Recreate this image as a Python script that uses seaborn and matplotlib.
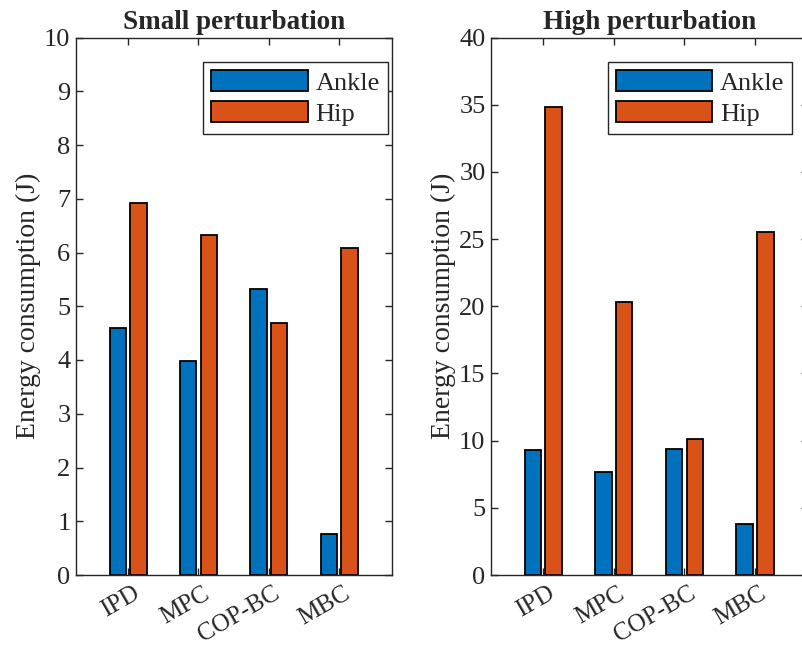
import numpy as np
import matplotlib
matplotlib.use("Agg")
import matplotlib.pyplot as plt
import matplotlib.transforms as mtransforms
import pandas as pd
import seaborn as sns

# data
controllers = ["IPD", "MPC", "COP-BC", "MBC"]
joints = ["Ankle", "Hip"]
small_ankle = [4.60, 3.98, 5.32, 0.77]
small_hip = [6.92, 6.32, 4.69, 6.08]
high_ankle = [9.27, 7.67, 9.37, 3.78]
high_hip = [34.82, 20.30, 10.12, 25.55]
titles = ["Small perturbation", "High perturbation"]
y_max = [10, 40]
y_step = [1, 5]

COLORS = ["#0072BD", "#D95319"]
AX_COLOR = "#262626"
FS = 19

sns.set_theme(style="white")
plt.rcParams["font.family"] = ["Liberation Serif", "DejaVu Serif"]
plt.rcParams["axes.edgecolor"] = AX_COLOR
plt.rcParams["xtick.color"] = AX_COLOR
plt.rcParams["ytick.color"] = AX_COLOR


def make_df(ankle, hip):
    rows = []
    for c, a, h in zip(controllers, ankle, hip):
        rows.append({"controller": c, "joint": "Ankle", "energy": a})
        rows.append({"controller": c, "joint": "Hip", "energy": h})
    return pd.DataFrame(rows)


frames = [make_df(small_ankle, small_hip), make_df(high_ankle, high_hip)]

fig = plt.figure(figsize=(8.03, 6.48), dpi=100)
positions = [
    [76 / 803, 73 / 648, 316 / 803, 537.5 / 648],
    [491 / 803, 73 / 648, 317 / 803, 537.5 / 648],
]

for i, df in enumerate(frames):
    ax = fig.add_axes(positions[i])
    sns.barplot(data=df, x="controller", y="energy", hue="joint",
                hue_order=joints, palette=COLORS, width=0.585, gap=0.2,
                edgecolor="black", linewidth=1.3, saturation=1,
                errorbar=None, ax=ax)
    ax.set_xlim(-0.74, 3.75)
    ax.set_ylim(0, y_max[i])
    ax.set_yticks(np.arange(0, y_max[i] + 1, y_step[i]))
    for s in ax.spines.values():
        s.set_visible(True)
        s.set_linewidth(1.0)
        s.set_color(AX_COLOR)
    ax.tick_params(axis="both", which="major", direction="in", length=5,
                   width=1.0, top=True, right=True, bottom=True, left=True,
                   labelsize=FS, pad=4)
    ax.set_xticks(range(len(controllers)))
    ax.set_xticklabels(controllers, rotation=30, ha="right", va="top",
                       rotation_mode="anchor", fontsize=18)
    # nudge rotated labels a little right and down, like the MATLAB output
    shift = mtransforms.ScaledTranslation(4 / 100, -2 / 100, fig.dpi_scale_trans)
    for lab in ax.get_xticklabels():
        lab.set_transform(lab.get_transform() + shift)
    ax.set_xlabel("")
    ax.set_ylabel("Energy consumption (J)", fontsize=20, labelpad=2)
    ax.set_title(titles[i], fontsize=19.5, fontweight="bold", pad=6)

    leg = ax.legend(loc="upper right", bbox_to_anchor=(0.987 if i == 0 else 0.95, 0.954),
                    borderaxespad=0, fontsize=FS, frameon=True, fancybox=False,
                    handlelength=3.65, handleheight=0.85, handletextpad=0.3,
                    labelspacing=0.25, borderpad=0.3, framealpha=1)
    leg.get_frame().set_edgecolor(AX_COLOR)
    leg.get_frame().set_linewidth(1.0)

fig.savefig("out.png", dpi=100)
